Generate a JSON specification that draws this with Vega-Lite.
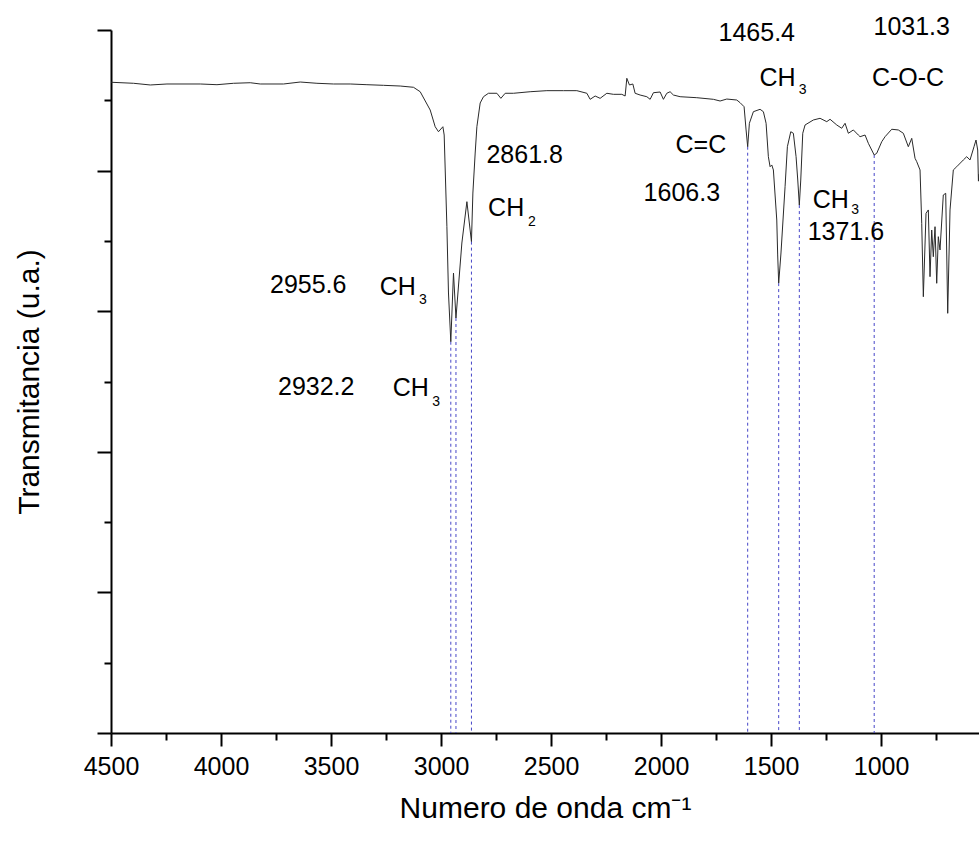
{
  "$schema": "https://vega.github.io/schema/vega-lite/v6.json",
  "width": 868,
  "height": 703,
  "autosize": "none",
  "padding": {"left": 111, "top": 30, "right": 0, "bottom": 109},
  "background": "white",
  "config": {
    "view": {"stroke": null},
    "font": "Liberation Sans",
    "axis": {
      "domainColor": "black", "domainWidth": 2, "tickColor": "black", "tickWidth": 2,
      "labelFont": "Liberation Sans", "titleFont": "Liberation Sans",
      "labelColor": "black", "titleColor": "black", "grid": false, "titleFontWeight": "normal"
    }
  },
  "datasets": {
    "spectrum": [
      {"w": 4500, "t": 92.6}, {"w": 4495.5, "t": 92.56}, {"w": 4397.3, "t": 92.42}, {"w": 4321.4, "t": 92.18},
      {"w": 4245.6, "t": 92.32}, {"w": 4094.3, "t": 92.32}, {"w": 4018.4, "t": 92.22}, {"w": 3943, "t": 92.42},
      {"w": 3867.1, "t": 92.5}, {"w": 3821.7, "t": 92.32}, {"w": 3715.8, "t": 92.32}, {"w": 3639.9, "t": 92.6},
      {"w": 3564.1, "t": 92.42}, {"w": 3488.6, "t": 92.32}, {"w": 3412.8, "t": 92.32}, {"w": 3336.9, "t": 92.22},
      {"w": 3261.5, "t": 92.13}, {"w": 3185.6, "t": 92.03}, {"w": 3125.2, "t": 91.85}, {"w": 3094.7, "t": 91.22},
      {"w": 3049.3, "t": 88.62}, {"w": 3026.6, "t": 86.24}, {"w": 3011.6, "t": 85.53}, {"w": 2991.6, "t": 86.24},
      {"w": 2985.7, "t": 85.06}, {"w": 2973.4, "t": 72.02}, {"w": 2966.2, "t": 62.59}, {"w": 2955.6, "t": 55.66},
      {"w": 2943.4, "t": 65.43}, {"w": 2932.2, "t": 59.03}, {"w": 2905.3, "t": 69.7}, {"w": 2882.5, "t": 75.58},
      {"w": 2861.8, "t": 69.9}, {"w": 2855.3, "t": 76.81}, {"w": 2844.8, "t": 82.5}, {"w": 2837.1, "t": 86.24},
      {"w": 2822.1, "t": 89.62}, {"w": 2807.1, "t": 90.51}, {"w": 2784.4, "t": 91.0}, {"w": 2746.2, "t": 91.0},
      {"w": 2728.1, "t": 90.28}, {"w": 2708.5, "t": 91.0}, {"w": 2670.8, "t": 91.0}, {"w": 2595, "t": 91.22},
      {"w": 2519.1, "t": 91.37}, {"w": 2443.7, "t": 91.37}, {"w": 2382.8, "t": 91.37}, {"w": 2337.3, "t": 91.0},
      {"w": 2322.3, "t": 90.14}, {"w": 2299.6, "t": 90.61}, {"w": 2276.9, "t": 90.28}, {"w": 2246.5, "t": 91.0},
      {"w": 2216.5, "t": 90.85}, {"w": 2178.3, "t": 90.85}, {"w": 2163.3, "t": 90.61}, {"w": 2155.6, "t": 93.13},
      {"w": 2143.8, "t": 92.18}, {"w": 2128.3, "t": 92.32}, {"w": 2117.9, "t": 91.0}, {"w": 2095.2, "t": 90.75},
      {"w": 2064.7, "t": 90.51}, {"w": 2049.7, "t": 90.14}, {"w": 2034.7, "t": 91.08}, {"w": 2004.3, "t": 91.18},
      {"w": 1989.3, "t": 90.14}, {"w": 1973.9, "t": 91.0}, {"w": 1958.9, "t": 91.22}, {"w": 1943.9, "t": 90.75},
      {"w": 1913.4, "t": 90.51}, {"w": 1837.6, "t": 90.37}, {"w": 1762.1, "t": 90.14}, {"w": 1731.7, "t": 89.9},
      {"w": 1701.3, "t": 90.18}, {"w": 1655.8, "t": 90.04}, {"w": 1640.8, "t": 89.66}, {"w": 1622.7, "t": 89.09},
      {"w": 1613.6, "t": 85.78}, {"w": 1606.3, "t": 83.4}, {"w": 1598.6, "t": 86.73}, {"w": 1580.4, "t": 88.38},
      {"w": 1550, "t": 88.72}, {"w": 1535, "t": 88.38}, {"w": 1522.7, "t": 86.73}, {"w": 1512.3, "t": 81.98},
      {"w": 1504.5, "t": 80.55}, {"w": 1496.8, "t": 80.8}, {"w": 1489.5, "t": 80.09}, {"w": 1474.1, "t": 72.97},
      {"w": 1470, "t": 68.0}, {"w": 1465.4, "t": 64.0}, {"w": 1455, "t": 68.28}, {"w": 1436.4, "t": 77.71},
      {"w": 1425.9, "t": 83.4}, {"w": 1410.5, "t": 85.53}, {"w": 1398.7, "t": 85.31}, {"w": 1386.4, "t": 81.98},
      {"w": 1378.7, "t": 78.66}, {"w": 1371.6, "t": 75.1}, {"w": 1365.1, "t": 78.66}, {"w": 1356, "t": 85.31},
      {"w": 1345.5, "t": 86.49}, {"w": 1307.8, "t": 87.2}, {"w": 1277.4, "t": 87.44}, {"w": 1246.9, "t": 86.96},
      {"w": 1231.9, "t": 87.3}, {"w": 1201.5, "t": 86.49}, {"w": 1178.8, "t": 86.02}, {"w": 1163.8, "t": 86.73},
      {"w": 1148.8, "t": 85.31}, {"w": 1126.1, "t": 85.78}, {"w": 1103.4, "t": 85.06}, {"w": 1095.6, "t": 84.82},
      {"w": 1072.9, "t": 85.06}, {"w": 1057.9, "t": 83.88}, {"w": 1031.3, "t": 82.22}, {"w": 1019.8, "t": 82.46},
      {"w": 997, "t": 84.11}, {"w": 982, "t": 84.82}, {"w": 951.6, "t": 85.88}, {"w": 921.6, "t": 85.78},
      {"w": 898.9, "t": 85.31}, {"w": 876.2, "t": 83.4}, {"w": 860.7, "t": 84.59}, {"w": 845.7, "t": 81.75},
      {"w": 838, "t": 81.27}, {"w": 823, "t": 80.09}, {"w": 815.3, "t": 72.5}, {"w": 808, "t": 62.06},
      {"w": 795.8, "t": 73.93}, {"w": 785.3, "t": 74.4}, {"w": 777.6, "t": 64.91}, {"w": 769.9, "t": 71.55},
      {"w": 762.6, "t": 67.75}, {"w": 754.9, "t": 72.02}, {"w": 747.2, "t": 63.97}, {"w": 739.9, "t": 70.6},
      {"w": 732.2, "t": 68.71}, {"w": 717.2, "t": 76.53}, {"w": 706.3, "t": 76.77}, {"w": 697.2, "t": 59.7},
      {"w": 686.7, "t": 74.4}, {"w": 671.7, "t": 80.09}, {"w": 656.3, "t": 80.55}, {"w": 626.3, "t": 81.51},
      {"w": 610.8, "t": 81.98}, {"w": 595.9, "t": 81.51}, {"w": 577.7, "t": 83.4}, {"w": 568.6, "t": 84.35},
      {"w": 560.9, "t": 82.93}, {"w": 557.5, "t": 78.5}, {"w": 555.5, "t": 79.5}
    ],
    "peaks": [
      {"w": 2955.6, "t": 55.66}, {"w": 2932.2, "t": 59.03}, {"w": 2861.8, "t": 69.9},
      {"w": 1606.3, "t": 83.4}, {"w": 1465.4, "t": 64.0}, {"w": 1371.6, "t": 75.1}, {"w": 1031.3, "t": 82.22}
    ],
    "labels": [
      {"w": 3603.6, "t": 63.73, "txt": "2955.6", "kind": "main"},
      {"w": 3197, "t": 63.49, "txt": "CH", "kind": "main"},
      {"w": 3082.5, "t": 61.59, "txt": "3", "kind": "sub"},
      {"w": 3567.2, "t": 49.26, "txt": "2932.2", "kind": "main"},
      {"w": 3137.9, "t": 49.08, "txt": "CH", "kind": "main"},
      {"w": 3022, "t": 47.13, "txt": "3", "kind": "sub"},
      {"w": 2619.9, "t": 82.22, "txt": "2861.8", "kind": "main"},
      {"w": 2704, "t": 74.64, "txt": "CH", "kind": "main"},
      {"w": 2587.2, "t": 72.73, "txt": "2", "kind": "sub"},
      {"w": 1565, "t": 99.53, "txt": "1465.4", "kind": "main"},
      {"w": 1470.5, "t": 93.13, "txt": "CH", "kind": "main"},
      {"w": 1356, "t": 91.47, "txt": "3", "kind": "sub"},
      {"w": 860.7, "t": 100.47, "txt": "1031.3", "kind": "main"},
      {"w": 877.6, "t": 93.13, "txt": "C-O-C", "kind": "main"},
      {"w": 1818.9, "t": 83.64, "txt": "C=C", "kind": "main"},
      {"w": 1905.7, "t": 76.77, "txt": "1606.3", "kind": "main"},
      {"w": 1228.3, "t": 75.82, "txt": "CH", "kind": "main"},
      {"w": 1118.4, "t": 74.4, "txt": "3", "kind": "sub"},
      {"w": 1160.1, "t": 71.3, "txt": "1371.6", "kind": "main"}
    ]
  },
  "encoding": {
    "x": {
      "field": "w", "type": "quantitative",
      "scale": {"domain": [555, 4500], "reverse": true, "zero": false, "nice": false},
      "axis": {
        "values": [4500, 4250, 4000, 3750, 3500, 3250, 3000, 2750, 2500, 2250, 2000, 1750, 1500, 1250, 1000, 750],
        "format": "d",
        "labelExpr": "datum.value % 500 === 0 ? datum.label : ''",
        "labelFontSize": 25, "labelPadding": 8, "labelFlush": false, "labelOverlap": false,
        "tickSize": {"condition": {"test": "datum.value % 500 === 0", "value": 13}, "value": 7},
        "title": "Numero de onda cm⁻¹", "titleFontSize": 30, "titlePadding": 14
      }
    },
    "y": {
      "field": "t", "type": "quantitative",
      "scale": {"domain": [0, 100], "zero": false, "nice": false},
      "axis": {
        "values": [0, 10, 20, 30, 40, 50, 60, 70, 80, 90, 100],
        "labels": false,
        "tickSize": {"condition": {"test": "datum.value % 20 === 0", "value": 14}, "value": 7},
        "title": "Transmitancia (u.a.)", "titleFontSize": 30, "titlePadding": 52
      }
    }
  },
  "layer": [
    {
      "data": {"name": "peaks"},
      "mark": {"type": "rule", "color": "#4646c8", "strokeDash": [3, 3], "strokeWidth": 1},
      "encoding": {"y2": {"datum": 0}}
    },
    {
      "data": {"name": "spectrum"},
      "mark": {"type": "line", "color": "#2a2a2a", "strokeWidth": 1, "clip": true}
    },
    {
      "data": {"name": "labels"},
      "transform": [{"filter": "datum.kind === 'main'"}],
      "mark": {"type": "text", "fontSize": 25, "font": "Liberation Sans", "align": "center", "baseline": "middle", "color": "black"},
      "encoding": {"text": {"field": "txt"}}
    },
    {
      "data": {"name": "labels"},
      "transform": [{"filter": "datum.kind === 'sub'"}],
      "mark": {"type": "text", "fontSize": 14, "font": "Liberation Sans", "align": "center", "baseline": "middle", "color": "black"},
      "encoding": {"text": {"field": "txt"}}
    }
  ]
}
